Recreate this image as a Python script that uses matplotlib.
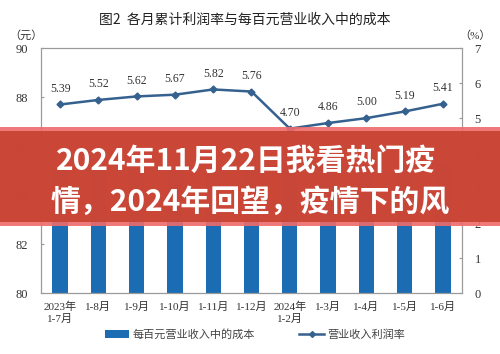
import matplotlib
matplotlib.use("Agg")
import matplotlib.pyplot as plt
from matplotlib.patches import Rectangle, Patch
from matplotlib.lines import Line2D

plt.rcParams['font.family'] = ['Liberation Serif', 'Noto Sans CJK SC', 'DejaVu Sans']

categories = ["2023年\n1-7月", "1-8月", "1-9月", "1-10月", "1-11月", "1-12月",
              "2024年\n1-2月", "1-3月", "1-4月", "1-5月", "1-6月"]
cost_per_100 = [85.01, 85.07, 85.11, 85.12, 85.14, 85.09, 85.43, 85.35, 85.33, 85.38, 85.29]
profit_rate = [5.39, 5.52, 5.62, 5.67, 5.82, 5.76, 4.70, 4.86, 5.00, 5.19, 5.41]
left_ticks = [80, 82, 84, 86, 88, 90]
right_ticks = [0, 1, 2, 3, 4, 5, 6, 7]

title = "图2  各月累计利润率与每百元营业收入中的成本"
bar_name = "每百元营业收入中的成本"
line_name = "营业收入利润率"
banner_lines = ["2024年11月22日我看热门疫", "情，2024年回望，疫情下的风"]

bar_color = "#1c6cb4"
line_color = "#35618f"
grey = "#9a9a9a"
txt = "#333333"

fig = plt.figure(figsize=(5.0, 3.54), dpi=100)
ax = fig.add_axes([0.082, 0.172, 0.842, 0.692])
x = list(range(len(categories)))
ax.bar(x, cost_per_100, width=0.4, color=bar_color, zorder=2)
ax.set_xlim(-0.5, len(categories) - 0.5)
ax.set_ylim(80, 90)
ax.set_yticks(left_ticks)
ax.set_yticklabels([str(t) for t in left_ticks], fontsize=9, color=txt)
ax.set_xticks(x)
ax.set_xticklabels(categories, fontsize=8, color=txt, linespacing=1.3)
ax.tick_params(axis='x', length=0, pad=6)
ax.tick_params(axis='y', direction='in', length=2, color=grey, pad=9)
for s in ax.spines.values():
    s.set_color(grey)
    s.set_linewidth(0.8)

ax2 = ax.twinx()
ax2.plot(x, profit_rate, color=line_color, lw=1.8, marker='D', ms=3.5, zorder=3)
ax2.set_ylim(0, 7)
ax2.set_yticks(right_ticks)
ax2.set_yticklabels([str(t) for t in right_ticks], fontsize=9, color=txt)
ax2.tick_params(axis='y', direction='in', length=2, color=grey, pad=9)
for s in ax2.spines.values():
    s.set_color(grey)
    s.set_linewidth(0.8)
for xi, v in zip(x, profit_rate):
    ax2.annotate(f"{v:.2f}", (xi, v), xytext=(0, 7), textcoords='offset points',
                 ha='center', va='bottom', fontsize=8.5, color=txt)

fig.text(0.49, 0.943, title, ha='center', va='center', fontsize=10, color='#222222',
         family=['Noto Sans CJK SC', 'DejaVu Sans'])
fig.text(0.052, 0.90, "（元）", ha='center', va='center', fontsize=8, color=txt)
fig.text(0.95, 0.90, "（%）", ha='center', va='center', fontsize=8, color=txt)

handles = [Patch(facecolor=bar_color, edgecolor='none'),
           Line2D([0], [0], color=line_color, lw=1.8, marker='D', ms=3)]
fig.legend(handles, [bar_name, line_name], loc='center', bbox_to_anchor=(0.51, 0.055),
           ncol=2, frameon=False, fontsize=8, handlelength=2.2, columnspacing=4,
           handletextpad=0.3, labelcolor='#444444')

# overlay banner
fig.patches.append(Rectangle((0, 1 - 226/354), 1, 99/354, transform=fig.transFigure,
                             facecolor='#ee6a6a', alpha=0.9, edgecolor='none', zorder=10))
fig.patches.append(Rectangle((0, 1 - 222/354), 1, 91/354, transform=fig.transFigure,
                             facecolor='#c5412f', alpha=0.88, edgecolor='none', zorder=11))
fig.text(0.492, 1 - 161/354, banner_lines[0], ha='center', va='center', fontsize=21.5,
         color='white', weight='bold', family=['Noto Sans CJK SC', 'DejaVu Sans'], zorder=12)
fig.text(0.5, 1 - 202/354, banner_lines[1], ha='center', va='center', fontsize=21.5,
         color='white', weight='bold', family=['Noto Sans CJK SC', 'DejaVu Sans'], zorder=12)

fig.savefig("out.png", dpi=100)
